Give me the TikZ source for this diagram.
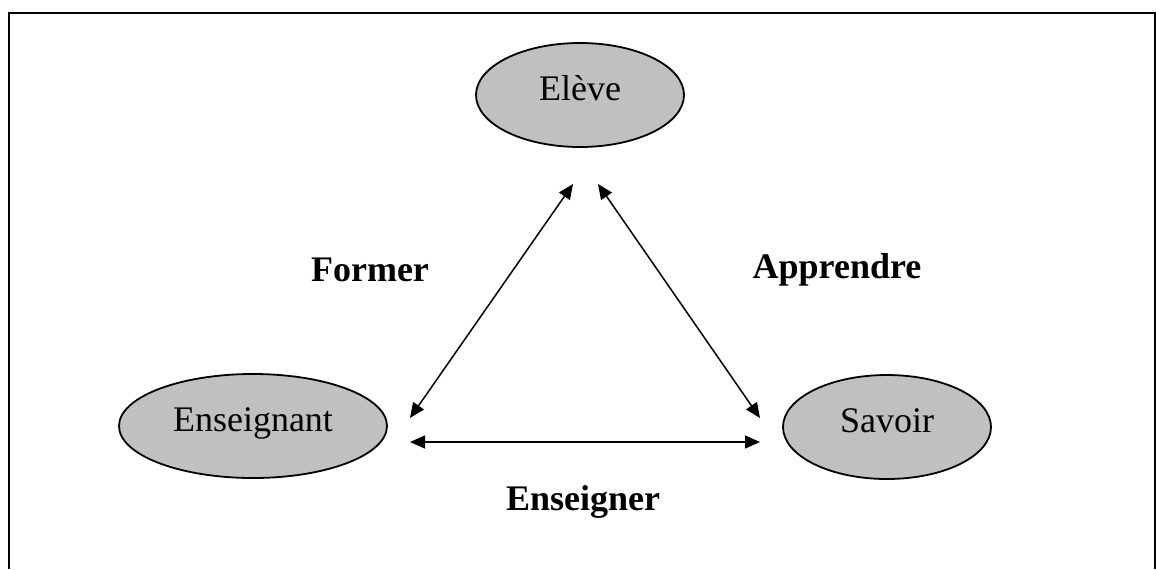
\documentclass[tikz,border=0pt]{standalone}
\usepackage{fontspec}
\setmainfont{Liberation Serif}
\usepackage{tikz}
\usepackage{xcolor}
\definecolor{ovalgray}{RGB}{192,192,192}
\tikzset{pole/.style={ellipse,draw=black,fill=ovalgray,line width=0.9pt,
   inner sep=0pt,minimum height=52pt,text height=12.5pt,text depth=7pt,
   font=\fontsize{18}{20}\selectfont},
 rel/.style={font=\bfseries\fontsize{18}{20}\selectfont},
 link/.style={{Triangle[length=7.5pt,width=6.5pt]}-{Triangle[length=7.5pt,width=6.5pt]},line width=0.75pt},
 }
\usetikzlibrary{shapes.geometric}
\usetikzlibrary{arrows.meta}

\begin{document}
\begin{tikzpicture}[x=0.5pt,y=-0.5pt]
        \useasboundingbox (0,0) rectangle (1156,569);
        \draw [line width=1.4pt] (9,569) -- (9,13) -- (1155,13) -- (1155,569);
        \node [pole,minimum width=104pt] (eleve) at (580,95) {Elève};
        \node [pole,minimum width=134pt] (prof) at (253,426) {Enseignant};
        \node [pole,minimum width=104pt] (savoir) at (887,427) {Savoir};
        \coordinate (eleveL) at (573,184);
        \coordinate (eleveR) at (598,184);
        \coordinate (profT) at (410,418);
        \coordinate (savoirT) at (760,418);
        \coordinate (profB) at (410,442);
        \coordinate (savoirB) at (760,442);
        \draw [link] (profT) -- (eleveL);
        \draw [link] (savoirT) -- (eleveR);
        \draw [link] (profB) -- (savoirB);
        \node [rel] (former) at (370,270) {Former};
        \node [rel] (apprendre) at (837,270) {Apprendre};
        \node [rel] (enseigner) at (583,502) {Enseigner};
    \end{tikzpicture}
\end{document}
